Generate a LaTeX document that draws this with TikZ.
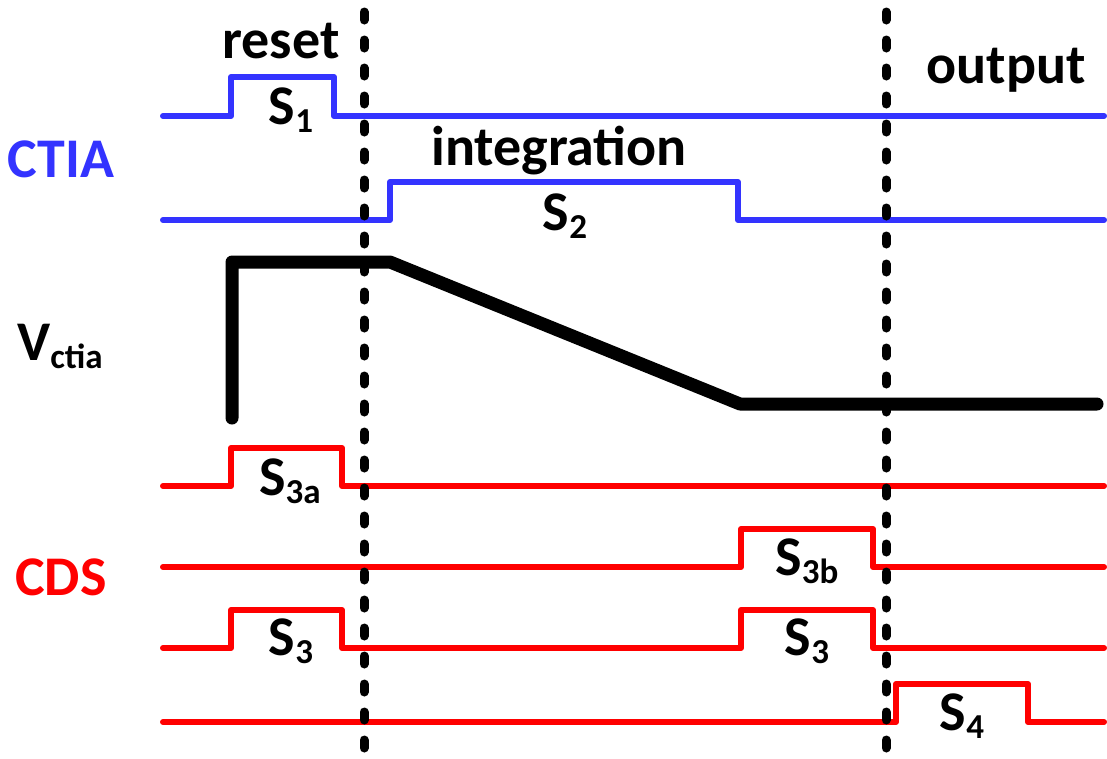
\documentclass[tikz,border=0pt]{standalone}
\usepackage{fontspec}
\setmainfont{Carlito}
\usepackage{xcolor}
\usetikzlibrary{positioning}
\definecolor{ctiablue}{RGB}{51,51,255}
\definecolor{cdsred}{RGB}{255,0,0}
\newcommand{\lowsub}[1]{\raisebox{-0.16em}{\fontsize{35}{35}\selectfont #1}}

\begin{document}
\begin{tikzpicture}[x=1pt, y=-1pt,
  sig/.style={line width=6pt, line join=round, line cap=round},
  lbl/.style={font=\fontsize{56}{64}\selectfont\bfseries, inner sep=0pt, anchor=base}]
  \useasboundingbox (0,0) rectangle (1107,758);

  % CTIA switches
  \draw[sig, ctiablue] (163,116) -- (231,116) -- (231,77) -- (334,77) -- (334,116) -- (1104,116);
  \draw[sig, ctiablue] (163,220) -- (390,220) -- (390,182) -- (738,182) -- (738,220) -- (1104,220);

  % output voltage
  \draw[line width=13pt, line join=round, line cap=round] (232,418) -- (232,262) -- (390,262) -- (740,404) -- (1097,404);

  % CDS switches
  \draw[sig, cdsred] (163,486) -- (231,486) -- (231,448) -- (342,448) -- (342,486) -- (1104,486);
  \draw[sig, cdsred] (163,567) -- (741,567) -- (741,529) -- (873,529) -- (873,567) -- (1104,567);
  \draw[sig, cdsred] (163,648) -- (231,648) -- (231,610) -- (342,610) -- (342,648)
    -- (741,648) -- (741,610) -- (873,610) -- (873,648) -- (1104,648);
  \draw[sig, cdsred] (163,722) -- (896,722) -- (896,684) -- (1028,684) -- (1028,722) -- (1104,722);

  % phase boundaries
  \draw[line width=9pt, line cap=round, dash pattern=on 8pt off 20pt] (364,12) -- (364,750);
  \draw[line width=9pt, line cap=round, dash pattern=on 8pt off 20pt] (886,12) -- (886,750);

  \node[lbl] (reset) at (281,58) {reset};
  \node[lbl] (integ) at (559,165) {integration};
  \node[lbl] (output) at (1006,83) {output};
  \node[lbl] (s1) at (291,124) {S\lowsub{1}};
  \node[lbl] (s2) at (565,230) {S\lowsub{2}};
  \node[lbl] (s3a) at (290,495) {S\lowsub{3a}};
  \node[lbl] (s3b) at (807,575) {S\lowsub{3b}};
  \node[lbl] (s3l) at (291,655) {S\lowsub{3}};
  \node[lbl] (s3r) at (807,655) {S\lowsub{3}};
  \node[lbl] (s4) at (962,730) {S\lowsub{4}};

  \node[lbl, ctiablue] (ctia) at (61,177) {CTIA};
  \node[lbl, anchor=base west] (vctia) at (17,360) {V\lowsub{ctia}};
  \node[lbl, cdsred] (cds) at (61,595) {CDS};
\end{tikzpicture}
\end{document}
